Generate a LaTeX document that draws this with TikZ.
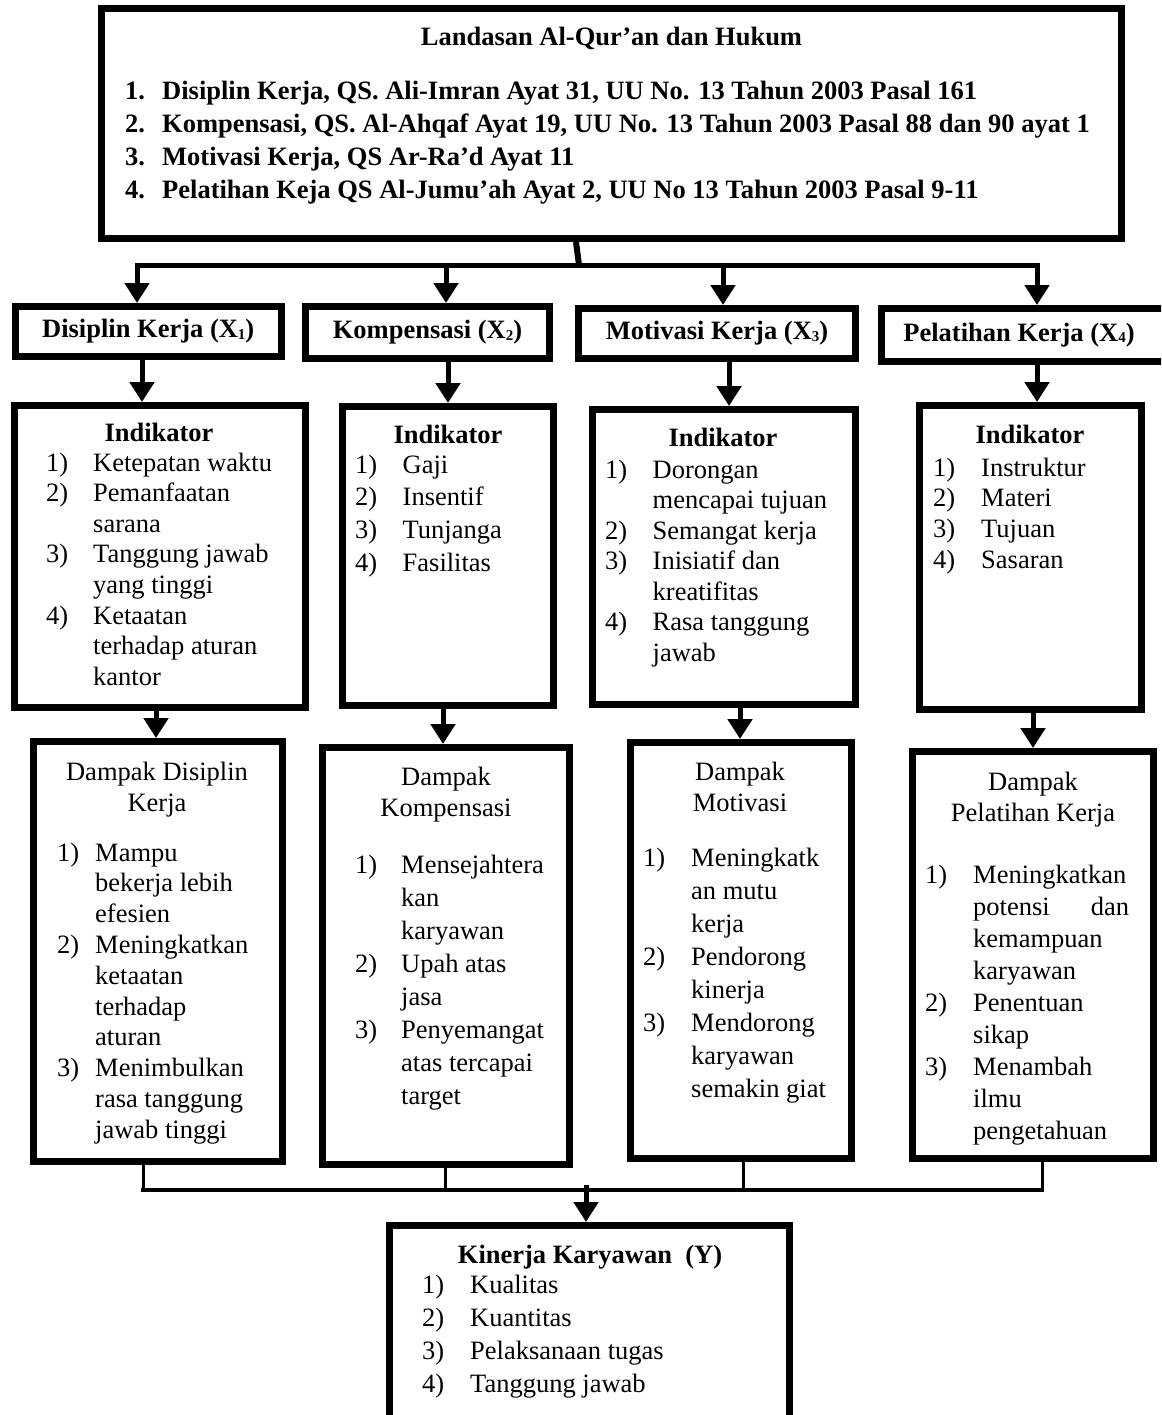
\documentclass[tikz,border=0pt]{standalone}
\usepackage{fontspec}
\setmainfont{Liberation Serif}
\usepackage{array}
\usetikzlibrary{arrows.meta}
\newcommand{\lstab}[2]{\begin{tabular}[t]{@{}w{l}{#1pt}@{}l@{}}#2\end{tabular}}
\newcommand{\fs}[1]{\fontsize{26.5}{#1}\selectfont}
\newcommand{\sbx}[1]{\raisebox{-1.5pt}{\fontsize{15}{15}\selectfont #1}}
\tikzset{
  box/.style={draw, rectangle, line width=7pt, inner sep=0pt},
  hdrfont/.style={font=\fs{30}\bfseries},
  ttl/.style={inner sep=0pt, anchor=base, font=\fs{30}\bfseries},
  sub/.style={inner sep=0pt, anchor=base, font=\fs{30}},
  lst/.style={inner sep=0pt, anchor=base west},
  arr/.style={line width=5pt, -{Triangle[length=20pt,width=24pt]}},
  conn/.style={line width=5pt, line cap=rect},
  thinc/.style={line width=3pt},
}
\begin{document}
\begin{tikzpicture}[x=1pt,y=-1pt]
\clip (0,0) rectangle (1161,1415);
\fill[white] (0,0) rectangle (1161,1415);

% ---------- top box ----------
\node[box, minimum width=1020pt, minimum height=230pt] (TOP) at (611.5,123.5) {};
\node[ttl] (TOPt) at (611.5,46) {Landasan Al-Qur’an dan Hukum};
\node[lst, font=\fs{32.7}\bfseries] (TOPl) at (125,100) {\lstab{37}{%
1. & Disiplin Kerja, QS. Ali-Imran Ayat 31, UU No. 13 Tahun 2003 Pasal 161\\
2. & Kompensasi, QS. Al-Ahqaf Ayat 19, UU No. 13 Tahun 2003 Pasal 88 dan 90 ayat 1\\
3. & Motivasi Kerja, QS Ar-Ra’d Ayat 11\\
4. & Pelatihan Keja QS Al-Jumu’ah Ayat 2, UU No 13 Tahun 2003 Pasal 9-11}};

% ---------- header boxes ----------
\node[box, hdrfont, minimum width=266.5pt, minimum height=50pt] (H1) at (148.25,331.5) {Disiplin Kerja (X\sbx{1})};
\node[box, hdrfont, minimum width=244pt, minimum height=52pt] (H2) at (427.5,332.5) {Kompensasi (X\sbx{2})};
\node[box, hdrfont, minimum width=277pt, minimum height=50pt] (H3) at (717,333.5) {Motivasi Kerja (X\sbx{3})};
\node[box, minimum width=285pt, minimum height=53pt] (H4) at (1024,335) {};
\node[inner sep=0pt, hdrfont] (H4t) at (1019,335) {Pelatihan Kerja (X\sbx{4})};

% ---------- connectors top ----------
\coordinate (s1) at (579,265);
\coordinate (hl1) at (137,265);
\coordinate (hl2) at (446,265);
\coordinate (hl3) at (723,265);
\coordinate (hl4) at (1037,265);
\draw[line width=6pt] (TOP.south -| 576,0) -- (s1);
\draw[conn] (hl1) -- (hl4);
\draw[arr] (hl1) -- (hl1 |- H1.north);
\draw[arr] (hl2) -- (hl2 |- H2.north);
\draw[arr] (hl3) -- (hl3 |- H3.north);
\draw[arr] (hl4) -- (hl4 |- H4.north);

% ---------- indicator boxes ----------
\node[box, minimum width=291.5pt, minimum height=302pt] (I1) at (159.75,556.5) {};
\node[box, minimum width=211.5pt, minimum height=299pt] (I2) at (447.75,556) {};
\node[box, minimum width=263pt, minimum height=295pt] (I3) at (724,557) {};
\node[box, minimum width=222pt, minimum height=304pt] (I4) at (1030.5,557.5) {};

\coordinate (x1) at (142,0);
\coordinate (x2) at (448,0);
\coordinate (x3) at (729,0);
\coordinate (x4) at (1037,0);
\draw[arr] (H1.south -| x1) -- (x1 |- I1.north);
\draw[arr] (H2.south -| x2) -- (x2 |- I2.north);
\draw[arr] (H3.south -| x3) -- (x3 |- I3.north);
\draw[arr] (H4.south -| x4) -- (x4 |- I4.north);

\node[ttl] (I1t) at (159,441) {Indikator};
\node[lst, font=\fs{30.6}] (I1l) at (46,471) {\lstab{47}{%
1) & Ketepatan waktu\\
2) & Pemanfaatan\\
   & sarana\\
3) & Tanggung jawab\\
   & yang tinggi\\
4) & Ketaatan\\
   & terhadap aturan\\
   & kantor}};

\node[ttl] (I2t) at (448,443) {Indikator};
\node[lst, font=\fs{32.7}] (I2l) at (355,473) {\lstab{47.5}{%
1) & Gaji\\
2) & Insentif\\
3) & Tunjanga\\
4) & Fasilitas}};

\node[ttl] (I3t) at (723,446) {Indikator};
\node[lst, font=\fs{30.5}] (I3l) at (605,478) {\lstab{47.5}{%
1) & Dorongan\\
   & mencapai tujuan\\
2) & Semangat kerja\\
3) & Inisiatif dan\\
   & kreatifitas\\
4) & Rasa tanggung\\
   & jawab}};

\node[ttl] (I4t) at (1030,443) {Indikator};
\node[lst, font=\fs{30.7}] (I4l) at (933,476) {\lstab{48}{%
1) & Instruktur\\
2) & Materi\\
3) & Tujuan\\
4) & Sasaran}};

% ---------- dampak boxes ----------
\node[box, minimum width=249pt, minimum height=420pt] (D1) at (158,951.5) {};
\node[box, minimum width=247pt, minimum height=417pt] (D2) at (446,956) {};
\node[box, minimum width=221pt, minimum height=416pt] (D3) at (741,950.5) {};
\node[box, minimum width=241pt, minimum height=407pt] (D4) at (1033,955) {};

\coordinate (y1) at (156,0);
\coordinate (y2) at (443,0);
\coordinate (y3) at (740,0);
\coordinate (y4) at (1033,0);
\draw[arr] (I1.south -| y1) -- (y1 |- D1.north);
\draw[arr] (I2.south -| y2) -- (y2 |- D2.north);
\draw[arr] (I3.south -| y3) -- (y3 |- D3.north);
\draw[arr] (I4.south -| y4) -- (y4 |- D4.north);

\node[sub] (D1a) at (157,780) {Dampak Disiplin};
\node[sub] (D1b) at (157,811) {Kerja};
\node[lst, font=\fs{30.8}] (D1l) at (57,861) {\lstab{38}{%
1) & Mampu\\
   & bekerja lebih\\
   & efesien\\
2) & Meningkatkan\\
   & ketaatan\\
   & terhadap\\
   & aturan\\
3) & Menimbulkan\\
   & rasa tanggung\\
   & jawab tinggi}};

\node[sub] (D2a) at (446,785) {Dampak};
\node[sub] (D2b) at (446,816) {Kompensasi};
\node[lst, font=\fs{33}] (D2l) at (355,873) {\lstab{46}{%
1) & Mensejahtera\\
   & kan\\
   & karyawan\\
2) & Upah atas\\
   & jasa\\
3) & Penyemangat\\
   & atas tercapai\\
   & target}};

\node[sub] (D3a) at (740,780) {Dampak};
\node[sub] (D3b) at (740,811) {Motivasi};
\node[lst, font=\fs{33}] (D3l) at (643,866) {\lstab{48}{%
1) & Meningkatk\\
   & an mutu\\
   & kerja\\
2) & Pendorong\\
   & kinerja\\
3) & Mendorong\\
   & karyawan\\
   & semakin giat}};

\node[sub] (D4a) at (1033,790) {Dampak};
\node[sub] (D4b) at (1033,821) {Pelatihan Kerja};
\node[lst, font=\fs{32.1}] (D4l) at (925,883) {\lstab{48}{%
1) & Meningkatkan\\
   & \makebox[156pt][s]{potensi\hfill dan}\\
   & kemampuan\\
   & karyawan\\
2) & Penentuan\\
   & sikap\\
3) & Menambah\\
   & ilmu\\
   & pengetahuan}};

% ---------- bottom connectors ----------
\node[box, minimum width=400pt, minimum height=201pt] (Y) at (589.5,1326) {};
\coordinate (j1) at (143,1190);
\coordinate (j2) at (445,1190);
\coordinate (j3) at (743,1190);
\coordinate (j4) at (1042,1190);
\coordinate (jm) at (586,1185);
\draw[thinc] (j1 |- D1.south) -- (j1);
\draw[thinc] (j2 |- D2.south) -- (j2);
\draw[thinc] (j3 |- D3.south) -- (j3);
\draw[thinc] (j4 |- D4.south) -- (j4);
\draw[line width=4.5pt, line cap=rect] (j1) -- (j4);
\draw[arr] (jm) -- (jm |- Y.north);

\node[ttl] (Yt) at (590,1263) {Kinerja Karyawan\ \ (Y)};
\node[lst, font=\fs{33.3}] (Yl) at (422,1293) {\lstab{48}{%
1) & Kualitas\\
2) & Kuantitas\\
3) & Pelaksanaan tugas\\
4) & Tanggung jawab}};
\end{tikzpicture}
\end{document}
